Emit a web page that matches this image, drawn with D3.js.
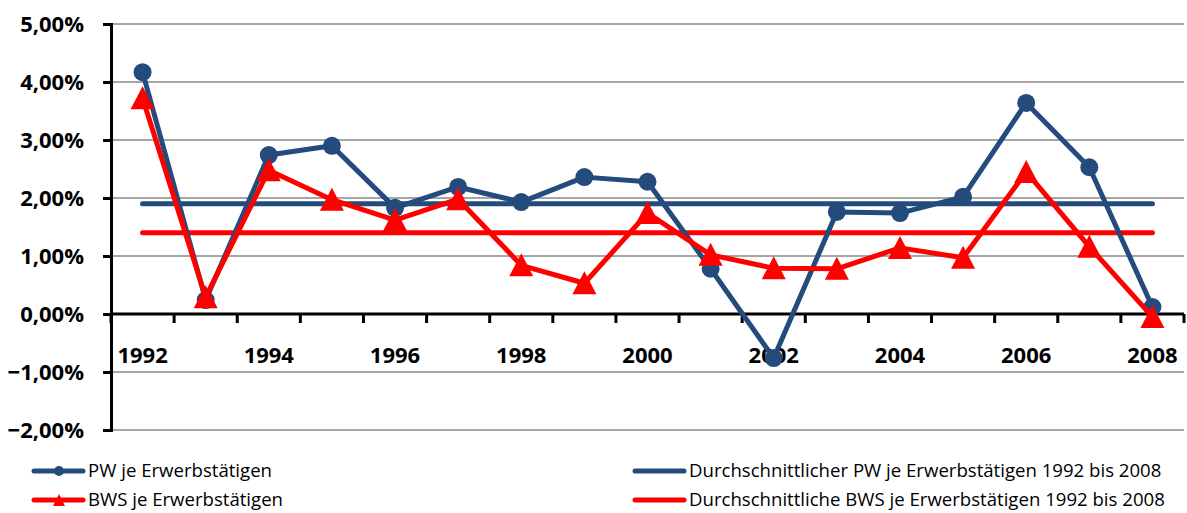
<!DOCTYPE html>
<meta charset="utf-8">
<head>
    <script src="https://d3js.org/d3.v7.min.js"></script>
    <style>
    body { margin: 0; background: #fff; }
    .ylab, .xlab { font: bold 22px "Open Sans", Lato, sans-serif; fill: #000; }
    .leg { font: 18.6px "Open Sans", Lato, sans-serif; fill: #000; }
    </style>
</head>
<body>
    <script>
    // data (growth rates, %)
    var years = ["1992","1993","1994","1995","1996","1997","1998","1999","2000",
                 "2001","2002","2003","2004","2005","2006","2007","2008"];
    var pw  = [4.17, 0.24, 2.74, 2.90, 1.83, 2.19, 1.93, 2.36, 2.28,
               0.78, -0.76, 1.76, 1.74, 2.02, 3.64, 2.53, 0.12];
    var bws = [3.72, 0.29, 2.48, 1.97, 1.62, 1.98, 0.84, 0.53, 1.74,
               1.02, 0.79, 0.78, 1.14, 0.97, 2.45, 1.16, -0.05];
    var pwAvg = 1.90, bwsAvg = 1.40;
    var yTicks = [5, 4, 3, 2, 1, 0, -1, -2];
    var labels = ["PW je Erwerbstätigen", "BWS je Erwerbstätigen",
                  "Durchschnittlicher PW je Erwerbstätigen 1992 bis 2008",
                  "Durchschnittliche BWS je Erwerbstätigen 1992 bis 2008"];

    var blue = "#234b7c", red = "#ff0000";

    var svg = d3.select("body").append("svg")
        .attr("width", 1187).attr("height", 513);

    // set the ranges
    var x = d3.scaleBand().domain(years).range([111, 1184]);
    var y = d3.scaleLinear().domain([-2, 5]).range([430, 24]);
    var fmt = d3.formatLocale({ decimal: ",", thousands: ".", grouping: [3], currency: ["", "€"] })
        .format(".2%");

    // gridlines
    svg.append("g").selectAll("line")
        .data(yTicks.filter(function(d) { return d !== 0; }))
        .enter().append("line")
        .attr("x1", 111).attr("x2", 1184)
        .attr("y1", function(d) { return y(d); })
        .attr("y2", function(d) { return y(d); })
        .attr("stroke", "#a6a6a6").attr("stroke-width", 2);

    // y axis
    var yAxis = svg.append("g")
        .attr("transform", "translate(111,0)")
        .call(d3.axisLeft(y).tickValues(yTicks).tickSize(8).tickFormat(function(d) { return fmt(d / 100); }));
    yAxis.select(".domain").attr("stroke", "#000").attr("stroke-width", 3);
    yAxis.selectAll(".tick line").attr("stroke", "#000").attr("stroke-width", 3);
    yAxis.selectAll("text").attr("class", "ylab").attr("x", -27).attr("dy", "0.36em");

    // x axis at zero, ticks between categories
    var xg = svg.append("g").attr("transform", "translate(0," + y(0) + ")");
    xg.append("line").attr("x1", 111).attr("x2", 1184)
        .attr("stroke", "#000").attr("stroke-width", 3);
    xg.selectAll(".xt").data(years.concat(["end"]))
        .enter().append("line")
        .attr("x1", function(d, i) { return i < years.length ? x(d) : 1184; })
        .attr("x2", function(d, i) { return i < years.length ? x(d) : 1184; })
        .attr("y1", 0).attr("y2", 9)
        .attr("stroke", "#000").attr("stroke-width", 3);
    xg.selectAll(".xlab").data(years.filter(function(d, i) { return i % 2 === 0; }))
        .enter().append("text")
        .attr("class", "xlab")
        .attr("x", function(d) { return x(d) + x.bandwidth() / 2; })
        .attr("y", 49)
        .attr("text-anchor", "middle")
        .text(function(d) { return d; });

    var cx = function(i) { return x(years[i]) + x.bandwidth() / 2; };

    // average lines
    svg.append("line")
        .attr("x1", cx(0)).attr("x2", cx(years.length - 1))
        .attr("y1", y(pwAvg)).attr("y2", y(pwAvg))
        .attr("stroke", blue).attr("stroke-width", 5).attr("stroke-linecap", "round");
    svg.append("line")
        .attr("x1", cx(0)).attr("x2", cx(years.length - 1))
        .attr("y1", y(bwsAvg)).attr("y2", y(bwsAvg))
        .attr("stroke", red).attr("stroke-width", 5).attr("stroke-linecap", "round");

    var line = d3.line()
        .x(function(d, i) { return cx(i); })
        .y(function(d) { return y(d); });

    // PW series
    svg.append("path").datum(pw)
        .attr("d", line).attr("fill", "none")
        .attr("stroke", blue).attr("stroke-width", 5).attr("stroke-linejoin", "round");
    svg.append("g").selectAll("circle").data(pw)
        .enter().append("circle")
        .attr("cx", function(d, i) { return cx(i); })
        .attr("cy", function(d) { return y(d); })
        .attr("r", 9).attr("fill", blue);

    // BWS series
    svg.append("path").datum(bws)
        .attr("d", line).attr("fill", "none")
        .attr("stroke", red).attr("stroke-width", 5).attr("stroke-linejoin", "round");
    svg.append("g").selectAll("path").data(bws)
        .enter().append("path")
        .attr("d", "M0,-12L12,11L-12,11Z")
        .attr("transform", function(d, i) { return "translate(" + cx(i) + "," + y(d) + ")"; })
        .attr("fill", red);

    // legend
    var leg = [
        { x: 32, y: 471, c: blue, m: "circle", t: labels[0] },
        { x: 32, y: 500, c: red, m: "tri", t: labels[1] },
        { x: 633, y: 471, c: blue, m: null, t: labels[2] },
        { x: 633, y: 500, c: red, m: null, t: labels[3] }
    ];
    var lg = svg.append("g").selectAll("g").data(leg).enter().append("g")
        .attr("transform", function(d) { return "translate(" + d.x + "," + d.y + ")"; });
    lg.append("line").attr("x1", 2).attr("x2", 51)
        .attr("stroke", function(d) { return d.c; })
        .attr("stroke-width", 5).attr("stroke-linecap", "round");
    lg.filter(function(d) { return d.m === "circle"; }).append("circle")
        .attr("cx", 27).attr("r", 5).attr("fill", blue);
    lg.filter(function(d) { return d.m === "tri"; }).append("path")
        .attr("d", "M0,-6L6,6L-6,6Z").attr("transform", "translate(27,0)")
        .attr("fill", red);
    lg.append("text").attr("class", "leg")
        .attr("x", 56).attr("dy", "0.32em")
        .text(function(d) { return d.t; });
    </script>
</body>
</html>
